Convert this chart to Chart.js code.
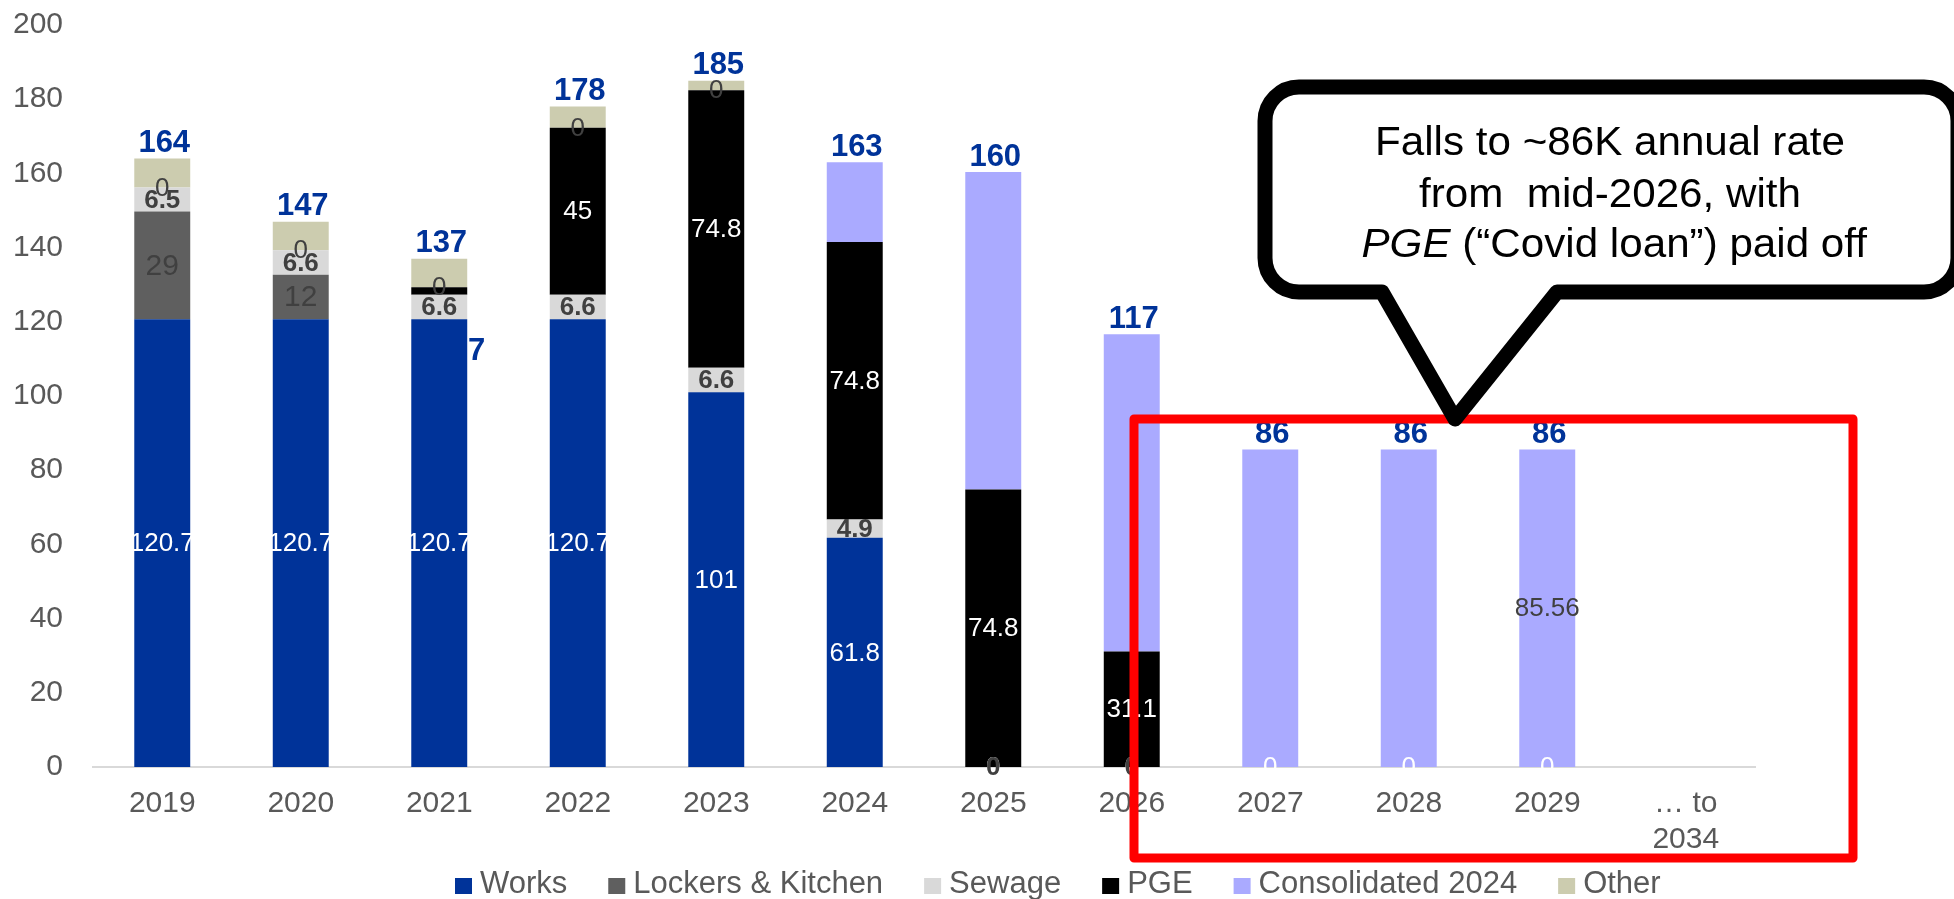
<!DOCTYPE html>
<html><head><meta charset="utf-8">
<script src="https://cdn.jsdelivr.net/npm/chart.js@4.4.0/dist/chart.umd.min.js"></script>
<style>html,body{margin:0;padding:0;background:#fff;overflow:hidden}#wrap{width:1954px;height:899px;position:relative}</style>
</head><body><div id="wrap"><canvas id="c" width="1954" height="899"></canvas></div>
<script>
// ---- data ----
const categories = ['2019','2020','2021','2022','2023','2024','2025','2026','2027','2028','2029',['\u2026 to','2034']];
const works        = [120.7,120.7,120.7,120.7,101,61.8,0,0,0,0,0,null];
const lockers      = [29,12,0,0,0,0,0,0,0,0,0,null];
const sewage       = [6.5,6.6,6.6,6.6,6.6,4.9,0,0,0,0,0,null];
const pge          = [0,0,2,45,74.8,74.8,74.8,31.1,0,0,0,null];
const consolidated = [0,0,0,0,0,21.5,85.56,85.56,85.56,85.56,85.56,null];
const other        = [7.8,7.7,7.7,5.7,2.6,0,0,0,0,0,0,null];
const totals       = [164,147,137,178,185,163,160,117,86,86,86,null];
// labels printed on the segments (null = not shown)
const worksLabels        = ['120.7','120.7','120.7','120.7','101','61.8','0','0','0','0','0',null];
const lockersLabels      = ['29','12',null,null,null,null,null,null,null,null,null,null];
const sewageLabels       = ['6.5','6.6','6.6','6.6','6.6','4.9','0','0',null,null,null,null];
const pgeLabels          = [null,null,null,'45','74.8','74.8','74.8','31.1',null,null,null,null];
const consolidatedLabels = ['0','0','0','0','0',null,null,null,null,null,'85.56',null];
const otherLabels        = [null,null,null,null,null,null,null,null,null,null,null,null];
const yTicks = [0,20,40,60,80,100,120,140,160,180,200];
const seriesNames = ['Works','Lockers & Kitchen','Sewage','PGE','Consolidated 2024','Other'];
const calloutLines = ['Falls to ~86K annual rate','from  mid-2026, with'];
const calloutItalic = 'PGE';
const calloutRest = ' (\u201CCovid loan\u201D) paid off';
const strayText = '137';
const strayValue = 112;

// ---- styles ----
const FF = "'Liberation Sans', Arial, Helvetica, sans-serif";
const colors = ['#003399','#5F5F5F','#D9D9D9','#000000','#AAAAFF','#CCCCAF'];
const labelStyles = [
  {labels: worksLabels,        color:'#FFFFFF', font:'26px '+FF},
  {labels: lockersLabels,      color:'#404040', font:'30px '+FF},
  {labels: sewageLabels,       color:'#404040', font:'bold 26px '+FF},
  {labels: pgeLabels,          color:'#FFFFFF', font:'26px '+FF},
  {labels: consolidatedLabels, color:'#404040', font:'26px '+FF},
  {labels: otherLabels,        color:'#404040', font:'26px '+FF}
];
const seriesData = [works,lockers,sewage,pge,consolidated,other];

const segLabelPlugin = {
  id:'segLabels',
  beforeDatasetsDraw(chart){
    const ctx = chart.ctx, xs = chart.scales.x, ys = chart.scales.y;
    const cw = xs.getPixelForValue(1) - xs.getPixelForValue(0);
    ctx.save();
    ctx.font = 'bold 31px '+FF; ctx.fillStyle = '#003399';
    ctx.textAlign = 'right'; ctx.textBaseline = 'middle';
    ctx.fillText(strayText, xs.getPixelForValue(2) + cw*0.332, ys.getPixelForValue(strayValue));
    ctx.restore();
  },
  afterDatasetsDraw(chart){
    const ctx = chart.ctx;
    ctx.save();
    ctx.textAlign = 'center'; ctx.textBaseline = 'middle';
    labelStyles.forEach((st, i) => {
      const meta = chart.getDatasetMeta(i);
      ctx.font = st.font; ctx.fillStyle = st.color;
      meta.data.forEach((bar, j) => {
        const t = st.labels[j];
        if (t == null || seriesData[i][j] == null) return;
        ctx.fillText(t, bar.x, (bar.y + bar.base)/2 + 1);
      });
    });
    // totals
    const ys = chart.scales.y;
    ctx.font = 'bold 31px '+FF; ctx.fillStyle = '#003399';
    const meta0 = chart.getDatasetMeta(0);
    totals.forEach((t, j) => {
      if (t == null) return;
      let sum = 0; seriesData.forEach(s => { sum += (s[j] || 0); });
      const top = ys.getPixelForValue(sum);
      ctx.fillText(String(t), meta0.data[j].x + 2, top - 15);
    });
    ctx.restore();
  },
  afterDraw(chart){
    const ctx = chart.ctx;
    ctx.save();
    // legend
    ctx.font = '31px '+FF; ctx.textBaseline = 'alphabetic'; ctx.textAlign = 'left';
    let x = 455;
    seriesNames.forEach((n, i) => {
      ctx.fillStyle = colors[i];
      ctx.fillRect(x, 878, 17, 16);
      ctx.fillStyle = '#595959';
      ctx.fillText(n, x + 25, 893);
      x += 25 + ctx.measureText(n).width + 41;
    });
    // red rectangle
    ctx.strokeStyle = '#FF0000'; ctx.lineWidth = 9; ctx.lineJoin = 'round';
    ctx.strokeRect(1134, 419, 719, 439);
    // speech bubble
    const L = 1265, T = 87, R = 1958, B = 292, r = 34;
    ctx.beginPath();
    ctx.moveTo(L + r, T);
    ctx.lineTo(R - r, T);
    ctx.arcTo(R, T, R, T + r, r);
    ctx.lineTo(R, B - r);
    ctx.arcTo(R, B, R - r, B, r);
    ctx.lineTo(1557, B);
    ctx.lineTo(1455, 419);
    ctx.lineTo(1382, B);
    ctx.lineTo(L + r, B);
    ctx.arcTo(L, B, L, B - r, r);
    ctx.lineTo(L, T + r);
    ctx.arcTo(L, T, L + r, T, r);
    ctx.closePath();
    ctx.fillStyle = '#FFFFFF'; ctx.fill();
    ctx.strokeStyle = '#000000'; ctx.lineWidth = 15; ctx.lineJoin = 'round';
    ctx.stroke();
    // callout text
    ctx.fillStyle = '#000000';
    ctx.font = '40px '+FF;
    const sx = 470 / ctx.measureText(calloutLines[0]).width;
    const cx = 1610;
    ctx.translate(cx, 0); ctx.scale(sx, 1);
    ctx.textAlign = 'center';
    ctx.fillText(calloutLines[0], 0, 155);
    ctx.fillText(calloutLines[1], 0, 207);
    ctx.textAlign = 'left';
    ctx.font = 'italic 40px '+FF;
    const w1 = ctx.measureText(calloutItalic).width;
    ctx.font = '40px '+FF;
    const w2 = ctx.measureText(calloutRest).width;
    const start = -(w1 + w2)/2 + 4;
    ctx.font = 'italic 40px '+FF;
    ctx.fillText(calloutItalic, start, 257);
    ctx.font = '40px '+FF;
    ctx.fillText(calloutRest, start + w1, 257);
    ctx.restore();
  }
};

new Chart(document.getElementById('c'), {
  type: 'bar',
  data: {
    labels: categories,
    datasets: seriesNames.map((n, i) => ({
      label: n, data: seriesData[i], backgroundColor: colors[i],
      borderWidth: 0, stack: 's', categoryPercentage: 1, barPercentage: 0.404
    }))
  },
  options: {
    responsive: false, animation: false, devicePixelRatio: 1,
    layout: { padding: { top: 25, right: 199, left: 0, bottom: 0 } },
    plugins: { legend: { display: false }, tooltip: { enabled: false } },
    scales: {
      x: {
        stacked: true,
        grid: { display: false, drawTicks: false },
        border: { display: true, color: '#D9D9D9', width: 2 },
        ticks: { color: '#595959', font: { family: FF, size: 30 }, padding: 19, autoSkip: false, maxRotation: 0 },
        afterFit: s => { s.height = 132; s.paddingLeft = 0; s.paddingRight = 0; }
      },
      y: {
        stacked: true, min: 0, max: 200,
        grid: { display: false, drawTicks: false },
        border: { display: false },
        ticks: { color: '#595959', font: { family: FF, size: 30 }, padding: 30 },
        afterBuildTicks: s => { s.ticks = yTicks.map(v => ({ value: v })); },
        afterFit: s => { s.width = 93; s.paddingTop = 0; s.paddingBottom = 0; }
      }
    }
  },
  plugins: [segLabelPlugin]
});
</script></body></html>
